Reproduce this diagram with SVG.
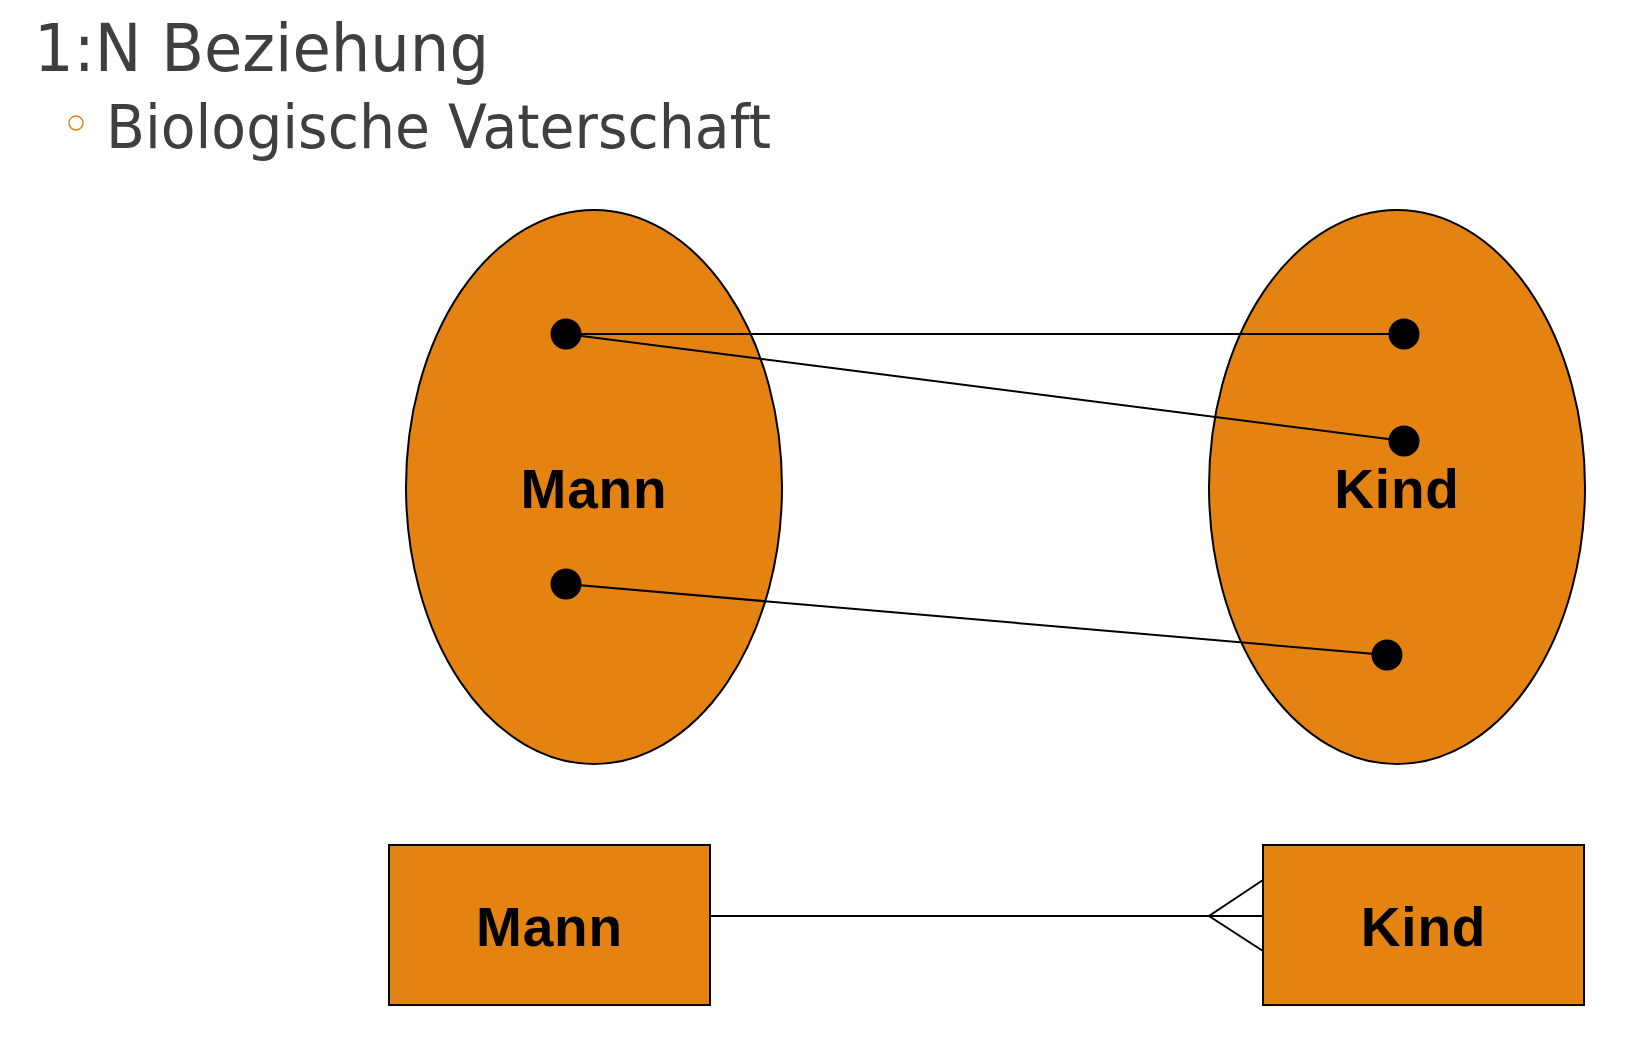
<svg xmlns="http://www.w3.org/2000/svg" width="1626" height="1041" viewBox="0 0 1626 1041">
<style>
.head{font-family:"DejaVu Sans",sans-serif;fill:#3f3f3f}
.lbl{font-family:"Liberation Sans",Arial,sans-serif;font-weight:bold;font-size:55px;fill:#000;text-anchor:middle;letter-spacing:0.8px}
.shape{fill:#e48312;stroke:#000;stroke-width:2}
.dot{fill:#000}
.con{stroke:#000;stroke-width:2;fill:none}
</style>
<rect width="1626" height="1041" fill="#fff"/>
<g id="title">
<text class="head" x="34" y="71" font-size="65" textLength="455" lengthAdjust="spacingAndGlyphs">1:N Beziehung</text>
<circle cx="76" cy="123" r="7" fill="none" stroke="#e48312" stroke-width="1.5"/>
<text class="head" x="106" y="148" font-size="61" textLength="665" lengthAdjust="spacingAndGlyphs">Biologische Vaterschaft</text>
</g>
<g id="set-mann">
<ellipse class="shape" cx="594" cy="487" rx="188" ry="277"/>
<text class="lbl" x="594" y="508">Mann</text>
<circle class="dot" cx="566" cy="334" r="15.5"/>
<circle class="dot" cx="566" cy="584" r="15.5"/>
</g>
<g id="set-kind">
<ellipse class="shape" cx="1397" cy="487" rx="188" ry="277"/>
<text class="lbl" x="1397" y="508">Kind</text>
<circle class="dot" cx="1404" cy="334" r="15.5"/>
<circle class="dot" cx="1404" cy="441" r="15.5"/>
<circle class="dot" cx="1387" cy="655" r="15.5"/>
</g>
<g id="entity-mann">
<rect class="shape" x="389" y="845" width="321" height="160"/>
<text class="lbl" x="549.5" y="946">Mann</text>
</g>
<g id="entity-kind">
<rect class="shape" x="1263" y="845" width="321" height="160"/>
<text class="lbl" x="1423.5" y="946">Kind</text>
</g>
<g id="connectors">
<line class="con" x1="566" y1="334" x2="1404" y2="334"/>
<line class="con" x1="566" y1="334" x2="1404" y2="441"/>
<line class="con" x1="566" y1="584" x2="1387" y2="655"/>
<line class="con" x1="710" y1="916" x2="1263" y2="916"/>
<polyline class="con" points="1263,880 1209,916 1263,951"/>
</g>
</svg>
